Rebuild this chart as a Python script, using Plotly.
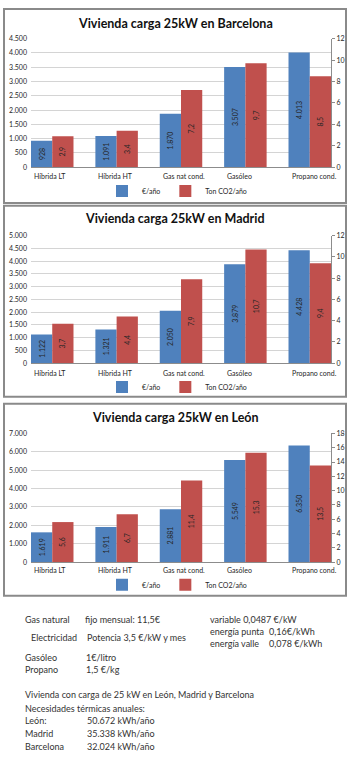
import plotly.graph_objects as go

# ---------------- data ----------------
categories = ["Híbrida LT", "Híbrida HT", "Gas nat cond.", "Gasóleo", "Propano cond."]
cities = ["Barcelona", "Madrid", "León"]
series_names = ["€/año", "Ton CO2/año"]

eur_barcelona = [928, 1091, 1870, 3507, 4013]
co2_barcelona = [2.9, 3.4, 7.2, 9.7, 8.5]
eur_madrid = [1122, 1321, 2050, 3879, 4428]
co2_madrid = [3.7, 4.4, 7.9, 10.7, 9.4]
eur_leon = [1619, 1911, 2881, 5549, 6350]
co2_leon = [5.6, 6.7, 11.4, 15.3, 13.5]

eur_axis_max = [4500, 5000, 7000]
eur_axis_step = [500, 500, 1000]
co2_axis_max = [12, 12, 18]
co2_axis_step = [2, 2, 2]

notes_left = ["Gas natural", "Electricidad", "Gasóleo", "Propano"]
notes_mid = ["fijo mensual: 11,5€", "Potencia 3,5 €/kW y mes", "1€/litro", "1,5 €/kg"]
notes_right = ["variable 0,0487 €/kW", "energía punta", "energía valle"]
notes_right_val = ["0,16€/kWh", "0,078 €/kWh"]
summary_lines = ["Vivienda con carga de 25 kW en León, Madrid y Barcelona",
                 "Necesidades térmicas anuales:"]
demand_city = ["León:", "Madrid", "Barcelona"]
demand_value = ["50.672 kWh/año", "35.338 kWh/año", "32.024 kWh/año"]

eur_all = [eur_barcelona, eur_madrid, eur_leon]
co2_all = [co2_barcelona, co2_madrid, co2_leon]

# ---------------- geometry (pixels) ----------------
W, H = 352, 762
FONT = "Lato"
BLUE = "#4F81BD"
RED = "#C0504D"
TXT = "#262626"


def px(x):
    return x / W


def py(y):
    return 1 - y / H


frame_top = [4, 203, 403]
frame_bot = [200, 396, 597]
plot_top = [34, 233, 433]
plot_bot = [164, 362, 563]
title_y = [19, 216, 417]
cat_y = [173, 372, 571]
leg_y = [188, 386, 586]
plot_l, plot_r = 31, 331
half_group = 0.33


def es_int(v):
    return f"{v:,}".replace(",", ".")


def es_dec(v):
    return f"{v:.1f}".replace(".", ",")


fig = go.Figure()
layout = dict(
    width=W, height=H, margin=dict(l=0, r=0, t=0, b=0),
    paper_bgcolor="white", plot_bgcolor="rgba(0,0,0,0)",
    barmode="group", bargap=1 - 2 * half_group, bargroupgap=0,
    separators=",.", font=dict(family=FONT, color=TXT, size=7),
    showlegend=True,
)
annotations = []
shapes = []

for i, city in enumerate(cities):
    xn = "x" if i == 0 else f"x{i + 1}"
    y1 = "y" if i == 0 else f"y{2 * i + 1}"
    y2 = f"y{2 * i + 2}"
    leg = "legend" if i == 0 else f"legend{i + 1}"
    dom = [py(plot_bot[i]), py(plot_top[i])]

    fig.add_trace(go.Bar(
        x=categories, y=eur_all[i], name=series_names[0], xaxis=xn, yaxis=y1,
        marker=dict(color=BLUE, line=dict(width=0)), offsetgroup="eur",
        text=[es_int(v) for v in eur_all[i]], textposition="inside",
        insidetextanchor="middle", textangle=-90, constraintext="none",
        textfont=dict(size=7, color=TXT, family=FONT), legend=leg,
        hoverinfo="skip"))
    fig.add_trace(go.Bar(
        x=categories, y=co2_all[i], name=series_names[1], xaxis=xn, yaxis=y2,
        marker=dict(color=RED, line=dict(width=0)), offsetgroup="co2",
        text=[es_dec(v) for v in co2_all[i]], textposition="inside",
        insidetextanchor="middle", textangle=-90, constraintext="none",
        textfont=dict(size=7, color=TXT, family=FONT), legend=leg,
        hoverinfo="skip"))

    layout["xaxis" if i == 0 else f"xaxis{i + 1}"] = dict(
        domain=[px(plot_l), px(plot_r)], anchor=y1, type="category",
        range=[-half_group, len(categories) - 1 + half_group],
        showticklabels=False, showgrid=False, showline=True,
        linecolor="#8c8c8c", linewidth=1, ticks="", zeroline=False,
        fixedrange=True)
    layout["yaxis" if i == 0 else f"yaxis{2 * i + 1}"] = dict(
        domain=dom, anchor=xn, range=[0, eur_axis_max[i]],
        dtick=eur_axis_step[i], tickformat=",d", showgrid=True,
        gridcolor="#d4d4d4", gridwidth=1, showline=False, zeroline=False,
        ticks="", tickfont=dict(size=7, color=TXT), ticklabelstandoff=3,
        fixedrange=True)
    layout[f"yaxis{2 * i + 2}"] = dict(
        overlaying=y1, side="right", anchor=xn, range=[0, co2_axis_max[i]],
        dtick=co2_axis_step[i], showgrid=False, showline=True,
        linecolor="#8c8c8c", linewidth=1, ticks="outside", ticklen=3,
        tickcolor="#8c8c8c", zeroline=False,
        tickfont=dict(size=7, color=TXT), fixedrange=True)
    layout[leg] = dict(
        x=px(177), y=py(leg_y[i]), xanchor="center", yanchor="middle",
        orientation="h", font=dict(size=7, color=TXT, family=FONT),
        bgcolor="rgba(0,0,0,0)", itemwidth=30, tracegroupgap=0,
        entrywidth=0, itemclick=False, itemdoubleclick=False)

    annotations.append(dict(
        text=f"<b>Vivienda carga 25kW en {city}</b>", xref="paper", yref="paper",
        x=px(175), y=py(title_y[i]), xanchor="center", yanchor="middle",
        showarrow=False, font=dict(size=12.5, color="#111111", family=FONT)))
    for j, cat in enumerate(categories):
        annotations.append(dict(
            text=cat, xref=xn, yref="paper", x=j - half_group,
            y=py(cat_y[i]), xanchor="left", yanchor="middle", xshift=1,
            showarrow=False, font=dict(size=7, color=TXT, family=FONT)))
    shapes.append(dict(
        type="rect", xref="paper", yref="paper", x0=px(4), x1=px(346),
        y0=py(frame_bot[i]), y1=py(frame_top[i]),
        line=dict(color="#8a8a8a", width=2), layer="below"))


def note(text, x, y, size=9):
    annotations.append(dict(
        text=text, xref="paper", yref="paper", x=px(x), y=py(y),
        xanchor="left", yanchor="middle", showarrow=False,
        font=dict(size=size, color="#333333", family=FONT)))


left_rows = [621, 639, 659, 672]
left_x = [23, 29, 23, 23]
mid_x = [83, 85, 84, 84]
for k in range(len(notes_left)):
    note(notes_left[k], left_x[k], left_rows[k])
    note(notes_mid[k], mid_x[k], left_rows[k])
right_rows = [621, 633, 645]
for k in range(len(notes_right)):
    note(notes_right[k], 208, right_rows[k])
for k in range(len(notes_right_val)):
    note(notes_right_val[k], 267, right_rows[k + 1])
for k, line in enumerate(summary_lines):
    note(line, 23, [697, 711][k])
for k in range(len(demand_city)):
    yy = [723, 736, 749][k]
    note(demand_city[k], 23, yy)
    note(demand_value[k], 85, yy)

layout["annotations"] = annotations
layout["shapes"] = shapes
fig.update_layout(**layout)
fig.write_html("out.html")
